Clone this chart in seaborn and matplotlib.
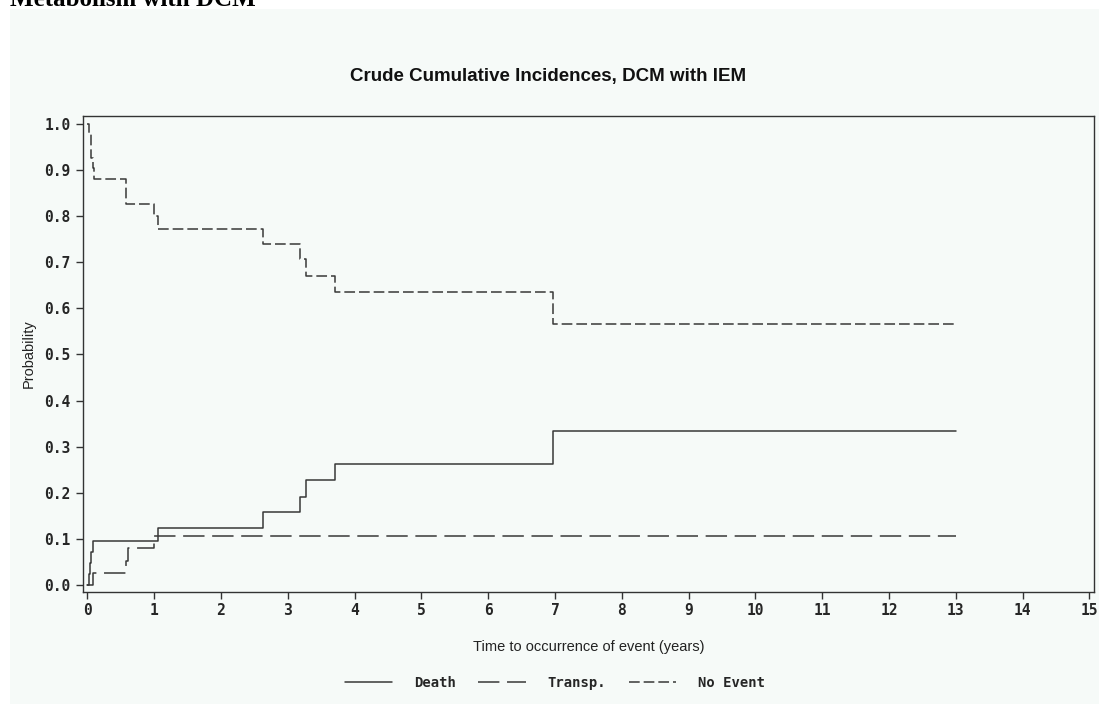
import matplotlib
matplotlib.use("Agg")
import matplotlib.pyplot as plt
from matplotlib.patches import Rectangle
import seaborn as sns
import pandas as pd

# ---- data ----
death_t = [0.0, 0.02, 0.04, 0.06, 0.08, 1.05, 2.63, 3.19, 3.27, 3.71, 6.97, 13.0]
death_p = [0.0, 0.024, 0.048, 0.072, 0.096, 0.124, 0.158, 0.192, 0.228, 0.262, 0.333, 0.333]

transp_t = [0.0, 0.08, 0.58, 0.61, 1.0, 13.0]
transp_p = [0.0, 0.027, 0.053, 0.080, 0.107, 0.107]

noevent_t = [0.0, 0.02, 0.05, 0.08, 0.10, 0.58, 1.0, 1.05, 2.63, 3.19, 3.27, 3.71, 6.97, 13.0]
noevent_p = [1.0, 0.98, 0.925, 0.905, 0.88, 0.827, 0.80, 0.772, 0.740, 0.706, 0.670, 0.635, 0.565, 0.565]

series_names = ["Death", "Transp.", "No Event"]
x_ticks = list(range(0, 16))
y_ticks = [0.0, 0.1, 0.2, 0.3, 0.4, 0.5, 0.6, 0.7, 0.8, 0.9, 1.0]

title = "Crude Cumulative Incidences, DCM with IEM"
header = "Metabolism with DCM"
x_label = "Time to occurrence of event (years)"
y_label = "Probability"

# ---- styling ----
sns.set_style("ticks")
plt.rcParams["font.family"] = ["Liberation Sans", "DejaVu Sans"]

W, H = 1099, 704
fig = plt.figure(figsize=(W / 100, H / 100), dpi=100, facecolor="white")
panel = "#f6faf8"
fig.patches.append(Rectangle((10 / W, 0), 1 - 10 / W, 1 - 9 / H, transform=fig.transFigure,
                             facecolor=panel, edgecolor="none", zorder=-10))

ax = fig.add_axes([83 / W, 1 - 592 / H, (1094 - 83) / W, (592 - 116) / H])
ax.set_facecolor(panel)

line_col = "#383838"
styles = {"Death": None, "Transp.": (14, 5), "No Event": (7, 2.6)}
data = {"Death": (death_t, death_p), "Transp.": (transp_t, transp_p), "No Event": (noevent_t, noevent_p)}

handles = []
for name in series_names:
    t, p = data[name]
    df = pd.DataFrame({"t": t, "p": p})
    n_before = len(ax.lines)
    sns.lineplot(data=df, x="t", y="p", ax=ax, drawstyle="steps-post", estimator=None,
                 sort=False, color=line_col, linewidth=1.1, legend=False)
    ln = ax.lines[n_before]
    dash = styles[name]
    if dash is not None:
        ln.set_dashes(dash)
    ln.set_label(name)
    handles.append(ln)

ax.set_xlim(-0.066, 15.07)
ax.set_ylim(-0.015, 1.017)
ax.set_xticks(x_ticks)
ax.set_yticks(y_ticks)
tick_font = dict(fontfamily="DejaVu Sans Mono", fontweight="bold", fontsize=10.5)
ax.set_xticklabels([str(v) for v in x_ticks], **tick_font)
ax.set_yticklabels([f"{v:.1f}" for v in y_ticks], **tick_font)
ax.tick_params(axis="x", direction="out", length=5, width=1.0, color="#333333", pad=3)
ax.tick_params(axis="y", direction="out", length=5, width=1.0, color="#333333", pad=4)

for s in ax.spines.values():
    s.set_visible(True)
    s.set_color("#333333")
    s.set_linewidth(1.0)

ax.set_xlabel(x_label, fontsize=10.5, color="#222222", labelpad=16)
ax.set_ylabel(y_label, fontsize=10.5, color="#222222", labelpad=6)

fig.text(548 / W, 1 - 77 / H, title, ha="center", va="center", fontsize=13.5, fontweight="bold",
         color="#111111")

fig.text(10 / W, 1 - 6 / H, header, ha="left", va="baseline", fontsize=18, fontweight="bold",
         family="Liberation Serif", color="black")

leg = fig.legend(handles=handles, labels=series_names, loc="center", bbox_to_anchor=(555 / W, 1 - 683 / H),
                 ncol=3, frameon=False, handlelength=3.4, handletextpad=1.6, columnspacing=1.6,
                 prop={"family": "DejaVu Sans Mono", "weight": "bold", "size": 10})

fig.savefig("out.png", dpi=100, facecolor="white")
